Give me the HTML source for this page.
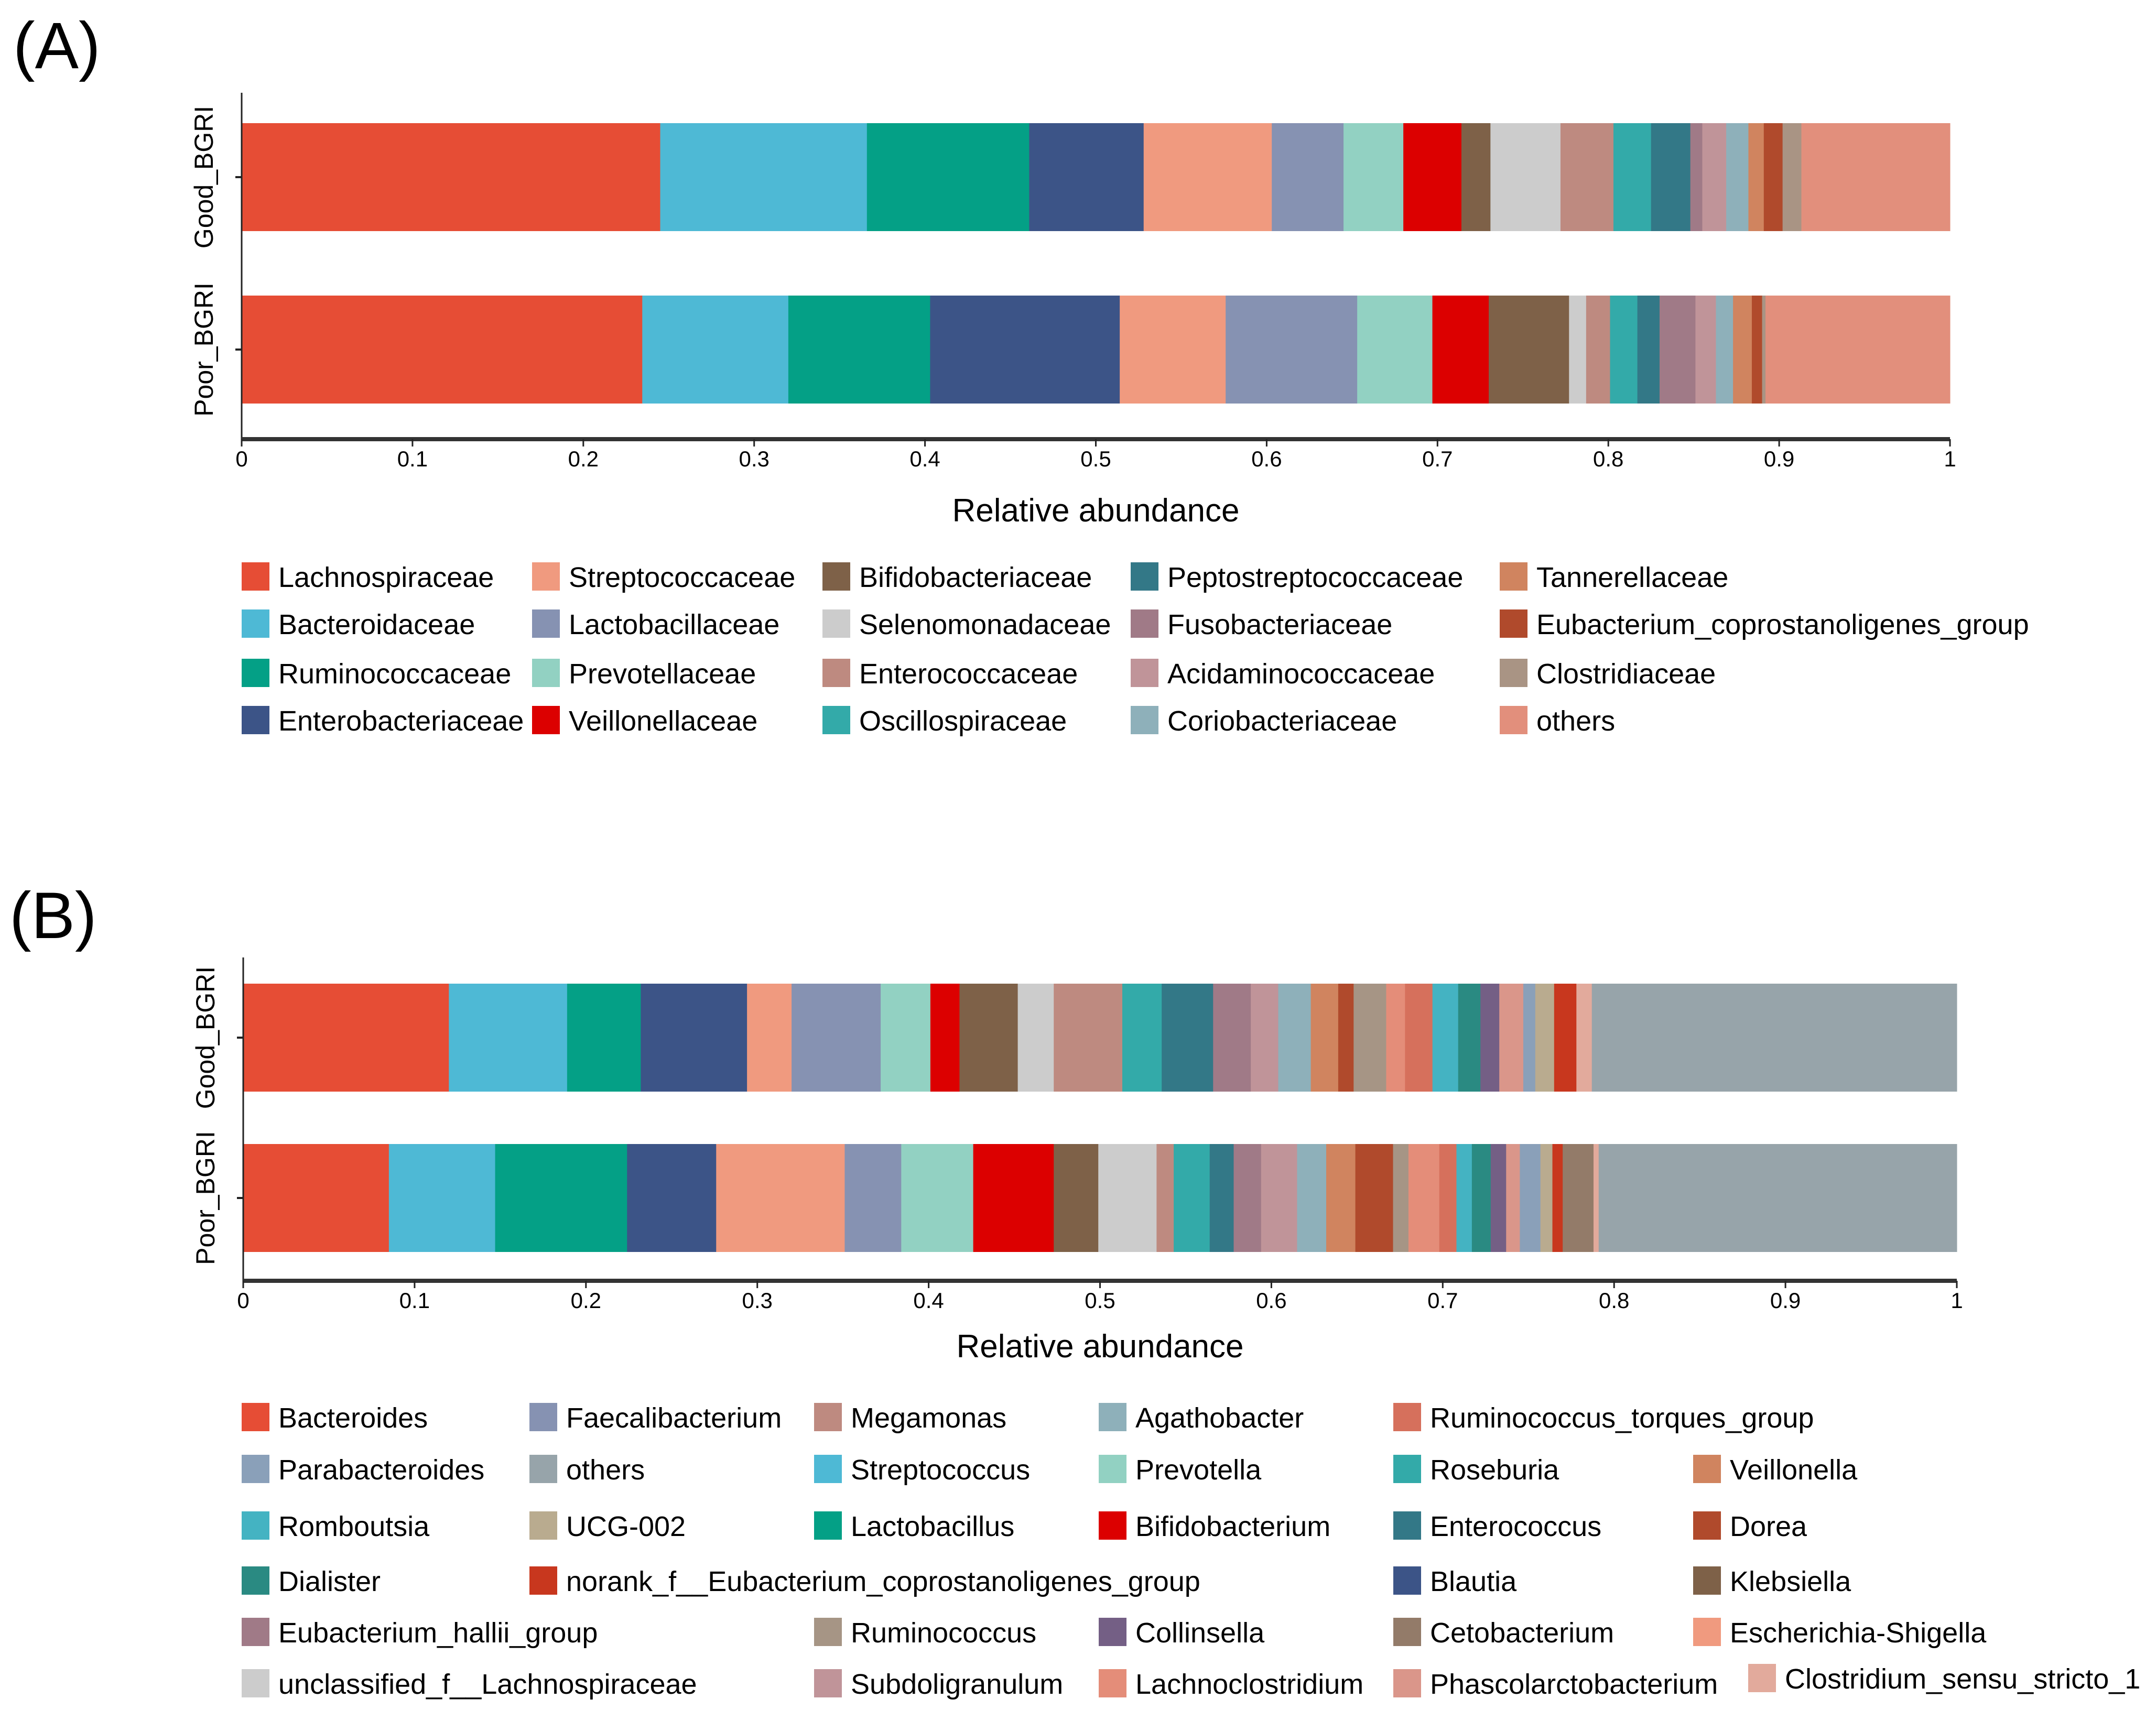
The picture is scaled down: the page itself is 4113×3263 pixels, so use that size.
<!DOCTYPE html>
<html><head><meta charset="utf-8"><style>
html,body{margin:0;padding:0;background:#fff;}
svg{display:block;font-family:"Liberation Sans",sans-serif;}
</style></head><body>
<svg id="chart" width="4113" height="3263" viewBox="0 0 4113 3263" xmlns="http://www.w3.org/2000/svg">
<rect width="4113" height="3263" fill="#fff"/>
<text x="25" y="130" font-size="125">(A)</text>
<text x="18" y="1790" font-size="125">(B)</text>
<g id="pa"></g><g id="pb"></g>
</svg>
<script>
// ---- Panel A data ----
const catsA = ["Lachnospiraceae","Bacteroidaceae","Ruminococcaceae","Enterobacteriaceae","Streptococcaceae","Lactobacillaceae","Prevotellaceae","Veillonellaceae","Bifidobacteriaceae","Selenomonadaceae","Enterococcaceae","Oscillospiraceae","Peptostreptococcaceae","Fusobacteriaceae","Acidaminococcaceae","Coriobacteriaceae","Tannerellaceae","Eubacterium_coprostanoligenes_group","Clostridiaceae","others"];
const colorsA = ["#e64d35","#4eb9d5","#04a086","#3c5487","#f09a7f","#8692b2","#92d1c2","#dc0000","#7e6148","#cccccc","#be8a80","#33aaa9","#337887","#a07a87","#c09499","#8eb0ba","#d0845f","#b04a2c","#a99484","#e28f7c"];
const samplesA = ["Good_BGRI","Poor_BGRI"];
const goodA = [0.245,0.121,0.095,0.067,0.075,0.042,0.035,0.034,0.017,0.041,0.031,0.022,0.023,0.007,0.014,0.013,0.009,0.011,0.011,0.087];
const poorA = [0.2345,0.0855,0.083,0.111,0.062,0.077,0.044,0.033,0.047,0.010,0.014,0.016,0.013,0.021,0.012,0.010,0.011,0.006,0.002,0.108];
const ticks = ["0","0.1","0.2","0.3","0.4","0.5","0.6","0.7","0.8","0.9","1"];
// ---- Panel B data ----
const catsB = ["Bacteroides","Streptococcus","Lactobacillus","Blautia","Escherichia-Shigella","Faecalibacterium","Prevotella","Bifidobacterium","Klebsiella","unclassified_f__Lachnospiraceae","Megamonas","Roseburia","Enterococcus","Eubacterium_hallii_group","Subdoligranulum","Agathobacter","Veillonella","Dorea","Ruminococcus","Lachnoclostridium","Ruminococcus_torques_group","Romboutsia","Dialister","Collinsella","Phascolarctobacterium","Parabacteroides","UCG-002","norank_f__Eubacterium_coprostanoligenes_group","Cetobacterium","Clostridium_sensu_stricto_1","others"];
const colorsB = ["#e64d35","#4eb9d5","#04a086","#3c5487","#f09a7f","#8692b2","#92d1c2","#dc0000","#7e6148","#cccccc","#be8a80","#33aaa9","#337887","#a07a87","#c09499","#8eb0ba","#d0845f","#b04a2c","#a69585","#e48d79","#d6705c","#44b3c2","#2a8a82","#745f85","#da968a","#8aa0b9","#b9ab8f","#c8371e","#937b69","#e2aa9c","#97a4aa"];
const goodB = [0.120,0.069,0.043,0.062,0.026,0.052,0.029,0.017,0.034,0.021,0.040,0.023,0.030,0.022,0.016,0.019,0.016,0.009,0.019,0.011,0.016,0.015,0.013,0.011,0.014,0.007,0.011,0.013,0.000,0.009,0.213];
const poorB = [0.085,0.062,0.077,0.052,0.075,0.033,0.042,0.047,0.026,0.034,0.010,0.021,0.014,0.016,0.021,0.017,0.017,0.022,0.009,0.018,0.010,0.009,0.011,0.009,0.008,0.012,0.007,0.006,0.018,0.003,0.209];
// legend layouts (row, col) per category
const legA = [[0,0],[1,0],[2,0],[3,0],[0,1],[1,1],[2,1],[3,1],[0,2],[1,2],[2,2],[3,2],[0,3],[1,3],[2,3],[3,3],[0,4],[1,4],[2,4],[3,4]];
const legB = [[0,0],[1,2],[2,2],[3,4],[4,5],[0,1],[1,3],[2,3],[3,5],[5,0],[0,2],[1,4],[2,4],[4,0],[5,2],[0,3],[1,5],[2,5],[4,2],[5,3],[0,4],[2,0],[3,0],[4,3],[5,4],[1,0],[2,1],[3,1],[4,4],[5,5],[1,1]];

const NS="http://www.w3.org/2000/svg";
function mk(parent,tag,attrs,txt){const e=document.createElementNS(NS,tag);for(const k in attrs)e.setAttribute(k,attrs[k]);if(txt!==undefined)e.textContent=txt;parent.appendChild(e);return e;}

function panel(g,cfg){
  const X=v=>cfg.x0+v*(cfg.x1-cfg.x0);
  const series=[cfg.good,cfg.poor];
  series.forEach((vals,si)=>{
    const y=cfg.barY[si];let acc=0;
    vals.forEach((v,i)=>{
      if(v<=0){acc+=v;return;}
      const r=mk(g,"rect",{x:X(acc),y:y,width:X(acc+v)-X(acc)+0.5,height:cfg.barH,fill:cfg.colors[i]});
      
      
      acc+=v;
    });
    const t=mk(g,"line",{x1:cfg.x0-12,x2:cfg.x0,y1:y+cfg.barH/2,y2:y+cfg.barH/2,stroke:"#222","stroke-width":4});
    
    
    const lab=mk(g,"text",{x:0,y:0,"font-size":50,"text-anchor":"middle",transform:`translate(${cfg.x0-55},${y+cfg.barH/2}) rotate(-90)`},samplesA[si]);
    
    
  });
  const ya=mk(g,"line",{x1:cfg.x0,x2:cfg.x0,y1:cfg.yTop,y2:cfg.axisY,stroke:"#222","stroke-width":3});
  
  
  const xa=mk(g,"line",{x1:cfg.x0,x2:cfg.x1,y1:cfg.axisY,y2:cfg.axisY,stroke:"#333","stroke-width":8});
  
  
  ticks.forEach((tk,i)=>{
    const v=parseFloat(tk);
    const l=mk(g,"line",{x1:X(v),x2:X(v),y1:cfg.axisY,y2:cfg.axisY+14,stroke:"#222","stroke-width":3});
    
    
    const t=mk(g,"text",{x:X(v),y:cfg.axisY+52,"font-size":42,"text-anchor":"middle"},tk);
    
    
  });
  const title=mk(g,"text",{x:(cfg.x0+cfg.x1)/2,y:cfg.titleY,"font-size":62,"text-anchor":"middle"},"Relative abundance");
  
  
  cfg.cats.forEach((c,i)=>{
    const [r,col]=cfg.leg[i];
    let lx=cfg.legX[col], ly=cfg.legY[r];
    if(cfg.id==='b'&&i===29){lx=3335;ly=3202;}
    const s=mk(g,"rect",{x:lx,y:ly-27,width:53,height:54,fill:cfg.colors[i]});
    
    
    const t=mk(g,"text",{x:lx+70,y:ly+20,"font-size":54},c);
    
    
  });
}
panel(document.getElementById('pa'),{id:'a',x0:461,x1:3720,barY:[235,564],barH:206,yTop:177,axisY:838,titleY:995,
  good:goodA,poor:poorA,colors:colorsA,cats:catsA,leg:legA,legX:[461,1015,1569,2157,2861],legY:[1100,1190,1284,1374]});
panel(document.getElementById('pb'),{id:'b',x0:464,x1:3733,barY:[1877,2183],barH:206,yTop:1827,axisY:2444,titleY:2590,
  good:goodB,poor:poorB,colors:colorsB,cats:catsB,leg:legB,legX:[461,1010,1553,2096,2658,3230],legY:[2704,2803,2911,3016,3114,3212]});
</script>
</body></html>
